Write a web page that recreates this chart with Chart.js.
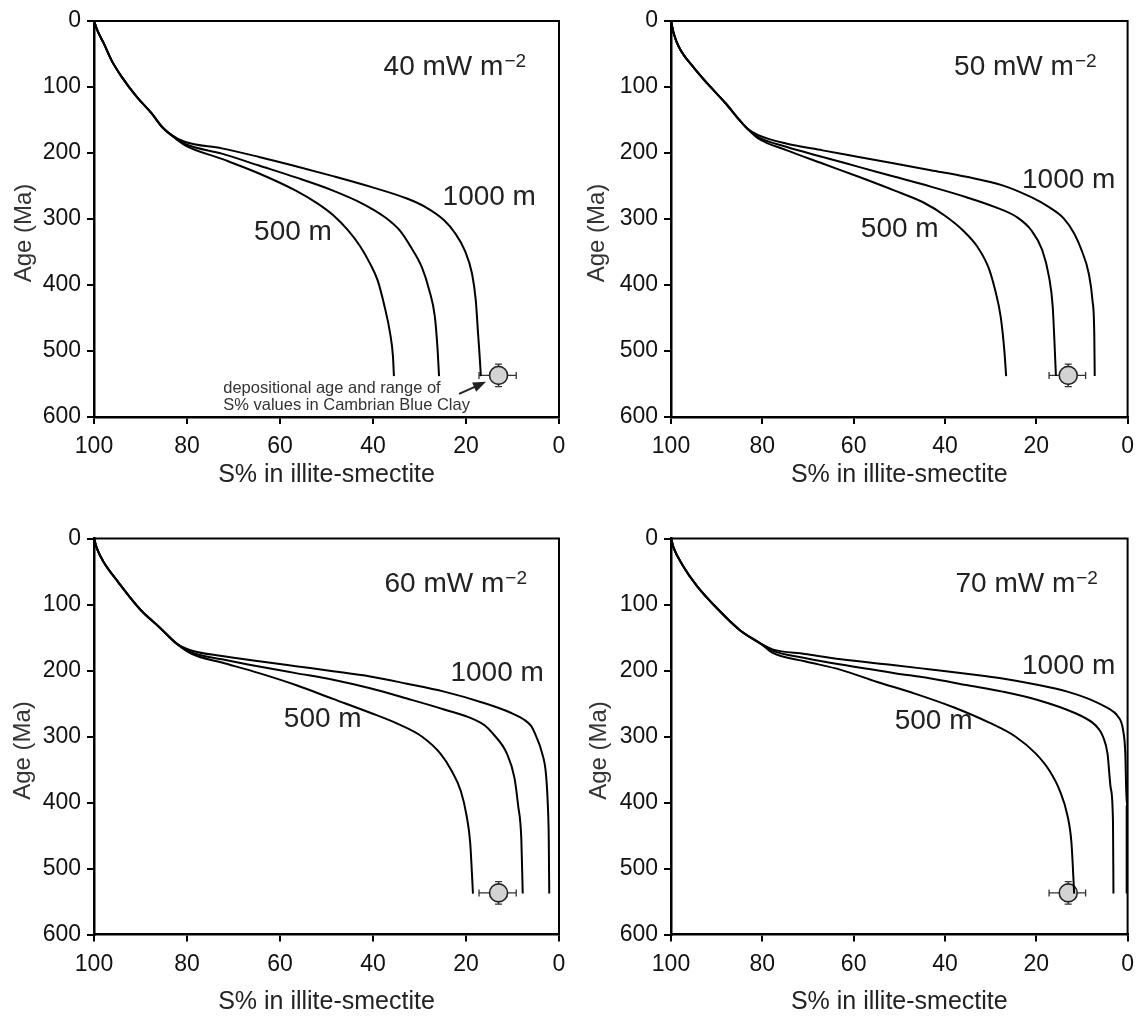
<!DOCTYPE html>
<html>
<head>
<meta charset="utf-8">
<script src="https://cdn.jsdelivr.net/npm/chart.js@4.4.1/dist/chart.umd.min.js"></script>
<style>
  body { margin: 0; background: #fff; }
  #wrap { position: relative; width: 1143px; height: 1017px; background: #fff; }
  canvas { position: absolute; }
</style>
</head>
<body>
<div id="wrap">
  <canvas id="p40" width="575" height="500" style="left:0;top:0"></canvas>
  <canvas id="p50" width="568" height="500" style="left:575px;top:0"></canvas>
  <canvas id="p60" width="575" height="517" style="left:0;top:500px"></canvas>
  <canvas id="p70" width="568" height="517" style="left:575px;top:500px"></canvas>
</div>
<script>
const FONT = '"Liberation Sans", Arial, Helvetica, sans-serif';

// heat flow of each panel (mW m-2)
const heatFlows = [40, 50, 60, 70];

// age (Ma) and S% in illite-smectite.
// upper part shared by the three burial curves, then one tail per depth
const age40 = [0, 14, 34, 60, 85, 115, 140, 161, 171];
const s40 = [100, 99.3, 97.9, 96.2, 94.0, 90.8, 87.6, 85.3, 83.7];
const age40_1000 = [183, 193, 206, 220, 235, 251, 269, 282, 302, 322, 347, 383, 423, 474, 504, 538];
const s40_1000 = [80.5, 72.5, 64.5, 56.6, 48.6, 40.6, 32.7, 28.7, 24.7, 22.3, 20.3, 18.7, 17.9, 17.4, 17.1, 16.8];
const age40_750 = [186, 201, 219, 237, 257, 277, 297, 317, 342, 373, 408, 448, 499, 538];
const s40_750 = [80.5, 72.5, 64.5, 56.6, 48.6, 42.2, 37.5, 34.3, 31.9, 29.5, 27.9, 26.7, 26.1, 25.8];
const age40_500 = [188, 209, 231, 257, 277, 294, 317, 342, 368, 393, 433, 474, 509, 538];
const s40_500 = [80.5, 72.5, 64.5, 56.6, 51.8, 48.6, 45.4, 42.7, 40.6, 39.0, 37.5, 36.3, 35.7, 35.5];

const age50 = [0, 19, 39, 70, 95, 125, 151, 163];
const s50 = [100, 99.4, 98.3, 95.1, 92.0, 88.0, 84.9, 83.3];
const age50_1000 = [173, 186, 196, 206, 216, 226, 236, 249, 267, 282, 299, 322, 347, 383, 423, 474, 538];
const s50_1000 = [80.9, 74.6, 66.8, 58.9, 51.0, 43.1, 35.3, 27.4, 21.1, 17.2, 14.0, 11.7, 10.1, 8.5, 7.7, 7.3, 7.2];
const age50_750 = [176, 191, 206, 221, 236, 251, 267, 282, 297, 317, 347, 388, 433, 489, 538];
const s50_750 = [80.9, 74.6, 66.8, 58.9, 51.0, 43.1, 35.3, 29.0, 24.3, 21.1, 18.7, 17.2, 16.4, 16.0, 15.7];
const age50_500 = [178, 196, 216, 236, 257, 275, 295, 317, 342, 373, 408, 448, 499, 538];
const s50_500 = [80.9, 74.6, 66.8, 58.9, 51.0, 44.7, 40.0, 36.1, 32.9, 30.5, 29.0, 27.8, 27.0, 26.6];

const age60 = [0, 14.5, 35, 66, 108, 134, 160];
const s60 = [100, 99.4, 98.0, 94.8, 90.0, 86.0, 82.1];
const age60_1000 = [170, 178, 186, 193.5, 201, 209, 220, 232, 248, 264, 276, 284, 295, 326, 357, 404, 456, 538];
const s60_1000 = [78.9, 72.5, 64.5, 56.6, 48.6, 40.6, 32.7, 24.7, 16.7, 10.4, 7.2, 6.0, 5.2, 3.6, 2.8, 2.4, 2.2, 2.1];
const age60_750 = [173, 183, 194, 204, 214, 227, 242.5, 259, 274, 283, 295, 326, 362, 404, 456, 538];
const s60_750 = [78.9, 72.5, 64.5, 56.6, 48.6, 40.6, 32.7, 24.7, 18.3, 16.0, 14.3, 11.2, 9.6, 8.8, 8.1, 7.8];
const age60_500 = [175, 188, 204, 222, 243, 264, 282, 300, 326, 352, 383, 419, 461, 538];
const s60_500 = [78.9, 72.5, 64.5, 56.6, 48.6, 40.6, 34.3, 29.5, 25.5, 23.1, 21.1, 19.9, 19.1, 18.5];

const age70 = [0, 14.5, 40, 72, 108, 139, 160];
const s70 = [100, 99.4, 97.5, 94.3, 89.6, 84.9, 80.2];
const age70_1000 = [168, 175, 183, 192, 198.5, 205, 212, 222, 232, 243, 256, 262, 269, 290, 326, 404, 538];
const s70_1000 = [77.8, 70.7, 62.8, 51.0, 43.1, 35.3, 27.4, 19.5, 13.2, 8.5, 4.6, 3.2, 2.2, 1.0, 0.5, 0.2, 0.2];
const age70_750 = [170, 181, 191, 204, 212, 222, 232, 245, 264, 279, 288, 300, 326, 378, 430, 538];
const s70_750 = [77.8, 70.7, 62.8, 51.0, 43.1, 35.3, 27.4, 19.5, 11.7, 7.7, 6.4, 5.4, 4.4, 3.7, 3.2, 3.1];
const age70_500 = [173, 186, 199, 217, 235, 256, 279, 300, 326, 352, 383, 419, 461, 538];
const s70_500 = [77.8, 70.7, 62.8, 55.0, 46.6, 38.0, 30.3, 24.6, 20.1, 17.1, 14.8, 13.2, 12.3, 11.7];

// Cambrian Blue Clay: depositional age and range of S% values
const clayS = 13;
const claySRange = [9.2, 17.2];
const clayAge = 537;
const clayAgeRange = [520, 554];

const xTicks = [100, 80, 60, 40, 20, 0];
const yTicks = [0, 100, 200, 300, 400, 500, 600];

const curves = {
  40: { top: [age40, s40], d500: [age40_500, s40_500], d750: [age40_750, s40_750], d1000: [age40_1000, s40_1000] },
  50: { top: [age50, s50], d500: [age50_500, s50_500], d750: [age50_750, s50_750], d1000: [age50_1000, s50_1000] },
  60: { top: [age60, s60], d500: [age60_500, s60_500], d750: [age60_750, s60_750], d1000: [age60_1000, s60_1000] },
  70: { top: [age70, s70], d500: [age70_500, s70_500], d750: [age70_750, s70_750], d1000: [age70_1000, s70_1000] },
};

// where the text sits, in axis units (S%, Ma)
const textSpots = {
  40: { hf: [22.4, 67], d1000: [15.0, 267], d500: [57.2, 320] },
  50: { hf: [22.4, 67], d1000: [12.9, 241], d500: [49.9, 315] },
  60: { hf: [22.2, 66], d1000: [13.3, 204], d500: [50.8, 274] },
  70: { hf: [22.1, 66], d1000: [12.9, 194], d500: [42.5, 277] },
};

// canvas layout of each panel
const panels = [
  { id: 'p40', hf: 40, yWidth: 94, xHeight: 83, padTop: 21, padRight: 16, yTitleX: 24, xTitlePad: 10, note: true },
  { id: 'p50', hf: 50, yWidth: 96, xHeight: 83, padTop: 21, padRight: 8, yTitleX: 22, xTitlePad: 10 },
  { id: 'p60', hf: 60, yWidth: 94, xHeight: 82.5, padTop: 38.5, padRight: 16, yTitleX: 23, xTitlePad: 0 },
  { id: 'p70', hf: 70, yWidth: 96, xHeight: 82.5, padTop: 38.5, padRight: 8, yTitleX: 24, xTitlePad: 0 },
];

function toPoints(ages, svals) {
  return ages.map((a, i) => ({ x: svals[i], y: a }));
}

function curveData(hf, key) {
  const c = curves[hf];
  return toPoints(c.top[0], c.top[1]).concat(toPoints(c[key][0], c[key][1]));
}

function drawHeatFlow(ctx, text, cx, cy) {
  ctx.font = '28px ' + FONT;
  const w1 = ctx.measureText(text).width;
  ctx.font = '19px ' + FONT;
  const w2 = ctx.measureText('\u22122').width;
  const left = cx - (w1 + w2 + 1) / 2;
  const base = cy + 10;
  ctx.textAlign = 'left';
  ctx.textBaseline = 'alphabetic';
  ctx.font = '28px ' + FONT;
  ctx.fillText(text, left, base);
  ctx.font = '19px ' + FONT;
  ctx.fillText('\u22122', left + w1 + 1, base - 8);
}

const decor = {
  id: 'decor',
  beforeDatasetsDraw(chart) {
    const { ctx, scales: { x, y } } = chart;
    const px = x.getPixelForValue(clayS);
    const py = y.getPixelForValue(clayAge);
    const xl = x.getPixelForValue(claySRange[1]);
    const xr = x.getPixelForValue(claySRange[0]);
    const yt = y.getPixelForValue(clayAgeRange[0]);
    const yb = y.getPixelForValue(clayAgeRange[1]);
    ctx.save();
    ctx.strokeStyle = '#333';
    ctx.lineWidth = 1.3;
    ctx.beginPath();
    ctx.moveTo(xl, py); ctx.lineTo(xr, py);
    ctx.moveTo(xl, py - 3.5); ctx.lineTo(xl, py + 3.5);
    ctx.moveTo(xr, py - 3.5); ctx.lineTo(xr, py + 3.5);
    ctx.moveTo(px, yt); ctx.lineTo(px, yb);
    ctx.moveTo(px - 3.5, yt); ctx.lineTo(px + 3.5, yt);
    ctx.moveTo(px - 3.5, yb); ctx.lineTo(px + 3.5, yb);
    ctx.stroke();
    ctx.restore();
  },
  afterDraw(chart, args, opts) {
    const { ctx, chartArea: a, scales: { x, y } } = chart;
    const spots = textSpots[opts.hf];
    ctx.save();
    // top and right side of the frame
    ctx.strokeStyle = '#000';
    ctx.lineWidth = 2;
    ctx.beginPath();
    ctx.moveTo(a.left - 1, a.top);
    ctx.lineTo(a.right, a.top);
    ctx.lineTo(a.right, a.bottom + 1);
    ctx.stroke();

    // y axis title, sitting a little below the middle like the original
    ctx.save();
    ctx.translate(opts.yTitleX, (a.top + a.bottom) / 2 + 14);
    ctx.rotate(-Math.PI / 2);
    ctx.fillStyle = '#333';
    ctx.font = '24px ' + FONT;
    ctx.textAlign = 'center';
    ctx.textBaseline = 'middle';
    ctx.fillText('Age (Ma)', 0, 0);
    ctx.restore();

    ctx.fillStyle = '#222';
    drawHeatFlow(ctx, opts.hf + ' mW m', x.getPixelForValue(spots.hf[0]), y.getPixelForValue(spots.hf[1]));
    ctx.font = '28px ' + FONT;
    ctx.textAlign = 'center';
    ctx.textBaseline = 'middle';
    ctx.fillText('1000 m', x.getPixelForValue(spots.d1000[0]), y.getPixelForValue(spots.d1000[1]));
    ctx.fillText('500 m', x.getPixelForValue(spots.d500[0]), y.getPixelForValue(spots.d500[1]));

    if (opts.note) {
      ctx.font = '16.5px ' + FONT;
      ctx.fillStyle = '#333';
      ctx.textAlign = 'left';
      const tx = x.getPixelForValue(72.2);
      ctx.fillText('depositional age and range of', tx, y.getPixelForValue(557));
      ctx.fillText('S% values in Cambrian Blue Clay', tx, y.getPixelForValue(582));
      // arrow to the data point
      const x0 = x.getPixelForValue(21.5), y0 = y.getPixelForValue(565);
      const x1 = x.getPixelForValue(15.7), y1 = y.getPixelForValue(546.6);
      const ang = Math.atan2(y1 - y0, x1 - x0);
      ctx.strokeStyle = '#222';
      ctx.lineWidth = 2;
      ctx.beginPath();
      ctx.moveTo(x0, y0);
      ctx.lineTo(x1 - 8 * Math.cos(ang), y1 - 8 * Math.sin(ang));
      ctx.stroke();
      ctx.fillStyle = '#222';
      ctx.beginPath();
      ctx.moveTo(x1, y1);
      ctx.lineTo(x1 - 13 * Math.cos(ang) + 5 * Math.sin(ang), y1 - 13 * Math.sin(ang) - 5 * Math.cos(ang));
      ctx.lineTo(x1 - 13 * Math.cos(ang) - 5 * Math.sin(ang), y1 - 13 * Math.sin(ang) + 5 * Math.cos(ang));
      ctx.closePath();
      ctx.fill();
    }
    ctx.restore();
  }
};

const lineStyle = {
  showLine: true,
  borderColor: '#000',
  borderWidth: 2,
  pointRadius: 0,
  cubicInterpolationMode: 'monotone',
  fill: false,
};

panels.forEach(p => {
  new Chart(document.getElementById(p.id), {
    type: 'scatter',
    data: {
      datasets: [
        Object.assign({ label: '500 m', data: curveData(p.hf, 'd500') }, lineStyle),
        Object.assign({ label: '750 m', data: curveData(p.hf, 'd750') }, lineStyle),
        Object.assign({ label: '1000 m', data: curveData(p.hf, 'd1000') }, lineStyle),
        {
          label: 'Cambrian Blue Clay',
          data: [{ x: clayS, y: clayAge }],
          showLine: false,
          pointRadius: 9,
          pointBackgroundColor: '#d3d3d3',
          pointBorderColor: '#222',
          pointBorderWidth: 1.6,
        },
      ],
    },
    options: {
      responsive: false,
      animation: false,
      devicePixelRatio: 1,
      layout: { padding: { left: 0, top: p.padTop, right: p.padRight, bottom: 0 } },
      plugins: {
        legend: { display: false },
        tooltip: { enabled: false },
        decor: { hf: p.hf, note: !!p.note, yTitleX: p.yTitleX },
      },
      scales: {
        x: {
          type: 'linear',
          min: 0,
          max: 100,
          reverse: true,
          afterBuildTicks: s => { s.ticks = xTicks.map(v => ({ value: v })); },
          afterFit: s => { s.height = p.xHeight; },
          ticks: { color: '#111', font: { family: FONT, size: 23 }, padding: 9, maxRotation: 0, autoSkip: false },
          grid: { drawOnChartArea: false, drawTicks: true, tickLength: 7, color: '#000', lineWidth: 2 },
          border: { display: true, color: '#000', width: 2.5 },
          title: {
            display: true,
            text: 'S% in illite-smectite',
            color: '#222',
            font: { family: FONT, size: 25 },
            padding: { top: 0, bottom: p.xTitlePad },
          },
        },
        y: {
          type: 'linear',
          min: 0,
          max: 600,
          reverse: true,
          afterBuildTicks: s => { s.ticks = yTicks.map(v => ({ value: v })); },
          afterFit: s => { s.width = p.yWidth; },
          ticks: { color: '#111', font: { family: FONT, size: 23 }, padding: 6, autoSkip: false },
          grid: { drawOnChartArea: false, drawTicks: true, tickLength: 7, color: '#000', lineWidth: 2 },
          border: { display: true, color: '#000', width: 2.5 },
          title: { display: false },
        },
      },
    },
    plugins: [decor],
  });
});
</script>
</body>
</html>
